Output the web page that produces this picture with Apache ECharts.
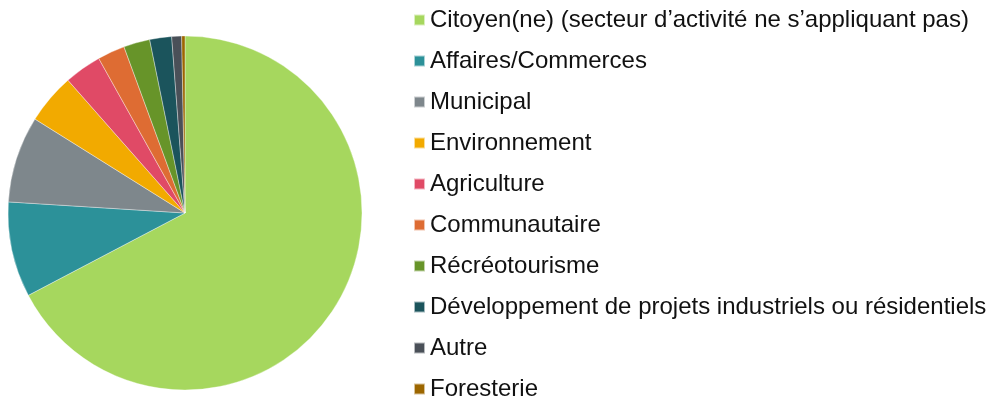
<!DOCTYPE html>
<html>
<head>
<meta charset="utf-8">
<script src="https://cdn.jsdelivr.net/npm/echarts@6/dist/echarts.min.js"></script>
<style>
  html, body { margin: 0; padding: 0; background: #fff; }
  #chart { width: 993px; height: 400px; }
</style>
</head>
<body>
<div id="chart"></div>
<script>
// Répartition des répondants par secteur d'activité (%)
const categories = [
  'Citoyen(ne) (secteur d\u2019activité ne s\u2019appliquant pas)',
  'Affaires/Commerces',
  'Municipal',
  'Environnement',
  'Agriculture',
  'Communautaire',
  'Récréotourisme',
  'Développement de projets industriels ou résidentiels',
  'Autre',
  'Foresterie'
];
const values = [67.3, 8.7, 7.9, 4.6, 3.4, 2.5, 2.4, 2.0, 0.9, 0.3];
const colors = [
  '#A6D75E', '#2C9199', '#7E878C', '#F2AA00', '#E04A66',
  '#DE6C33', '#679429', '#1B545C', '#4A5058', '#9C6600'
];

const chart = echarts.init(document.getElementById('chart'), null, { renderer: 'canvas' });

chart.setOption({
  animation: false,
  color: colors,
  legend: {
    orient: 'vertical',
    left: 413,
    top: 8,
    height: 400,
    padding: 0,
    itemWidth: 11,
    itemHeight: 11,
    itemGap: 17,
    icon: 'rect',
    selectedMode: false,
    textStyle: {
      fontFamily: 'Liberation Sans, Arial, sans-serif',
      fontSize: 24,
      lineHeight: 24,
      color: '#111'
    },
    data: categories
  },
  series: [{
    type: 'pie',
    center: [185, 213],
    radius: [0, 177],
    startAngle: 90,
    clockwise: true,
    label: { show: false },
    labelLine: { show: false },
    emphasis: { disabled: true },
    itemStyle: { borderColor: 'rgba(255,255,255,0.6)', borderWidth: 0.6 },
    data: categories.map((name, i) => ({ name, value: values[i] }))
  }]
});
</script>
</body>
</html>
